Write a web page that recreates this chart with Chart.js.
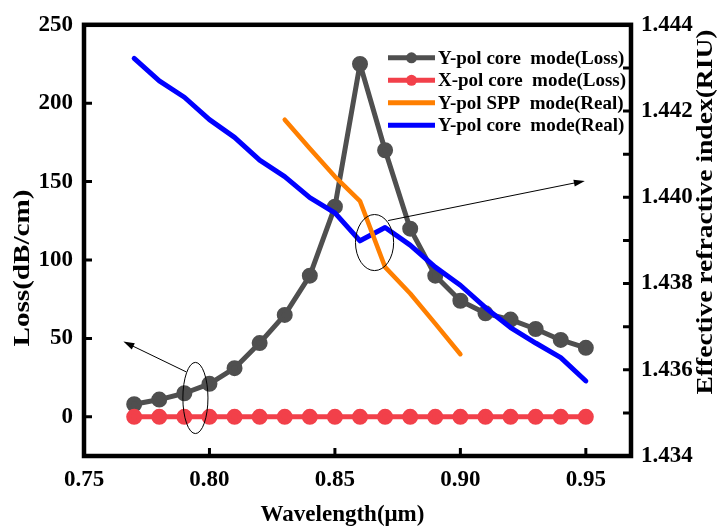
<!DOCTYPE html>
<html>
<head>
<meta charset="utf-8">
<script src="https://cdn.jsdelivr.net/npm/chart.js@4"></script>
<style>
html, body { margin: 0; padding: 0; background: #fff; }
#wrap { width: 717px; height: 529px; }
</style>
</head>
<body>
<div id="wrap"><canvas id="myChart"></canvas></div>
<script>
const wavelengths = [0.77, 0.78, 0.79, 0.80, 0.81, 0.82, 0.83, 0.84, 0.85, 0.86, 0.87, 0.88, 0.89, 0.90, 0.91, 0.92, 0.93, 0.94, 0.95];
const yCoreLoss = [8, 11, 15, 21, 31, 47, 65, 90, 134, 225, 170, 120, 90, 74, 66, 62, 56, 49, 44];
const xCoreLoss = [0, 0, 0, 0, 0, 0, 0, 0, 0, 0, 0, 0, 0, 0, 0, 0, 0, 0, 0];
const sppWavelengths = [0.83, 0.84, 0.85, 0.86, 0.87, 0.88, 0.89, 0.90];
const sppReal = [1.4418, 1.44113, 1.44048, 1.43991, 1.43838, 1.43777, 1.43707, 1.43636];
const yCoreReal = [1.44322, 1.4427, 1.44232, 1.4418, 1.44139, 1.44086, 1.44048, 1.43999, 1.43964, 1.43899, 1.4393, 1.43889, 1.43838, 1.43796, 1.43744, 1.43698, 1.43662, 1.43628, 1.43574];
const xTicks = [0.75, 0.80, 0.85, 0.90, 0.95];
const lossTicks = [0, 50, 100, 150, 200, 250];
const indexTicks = [1.434, 1.435, 1.436, 1.437, 1.438, 1.439, 1.440, 1.441, 1.442, 1.443, 1.444];

const serif = "'Liberation Serif', 'Times New Roman', serif";

function pts(xs, ys) {
    return xs.map((x, i) => ({ x: x, y: ys[i] }));
}

// frame, inward ticks, titles, legend and the two callouts
const decor = {
    id: 'decor',
    afterDatasetsDraw(chart) {
        const ctx = chart.ctx;
        const a = chart.chartArea;
        const sx = chart.scales.x, sy = chart.scales.y, sr = chart.scales.y1;
        ctx.save();

        // callouts
        ctx.strokeStyle = '#000';
        ctx.fillStyle = '#000';
        ctx.lineWidth = 1;
        function ellipse(scaleY, cx, cy, rx, ry) {
            const px = sx.getPixelForValue(cx), py = scaleY.getPixelForValue(cy);
            const prx = Math.abs(sx.getPixelForValue(cx + rx) - px);
            const pry = Math.abs(scaleY.getPixelForValue(cy + ry) - py);
            ctx.beginPath();
            ctx.ellipse(px, py, prx, pry, 0, 0, Math.PI * 2);
            ctx.stroke();
        }
        function arrow(scaleY, x0, y0, x1, y1) {
            const ax = sx.getPixelForValue(x0), ay = scaleY.getPixelForValue(y0);
            const bx = sx.getPixelForValue(x1), by = scaleY.getPixelForValue(y1);
            const ang = Math.atan2(by - ay, bx - ax);
            ctx.beginPath();
            ctx.moveTo(ax, ay);
            ctx.lineTo(bx - 8 * Math.cos(ang), by - 8 * Math.sin(ang));
            ctx.stroke();
            ctx.beginPath();
            ctx.moveTo(bx, by);
            ctx.lineTo(bx - 11 * Math.cos(ang) + 3.5 * Math.sin(ang), by - 11 * Math.sin(ang) - 3.5 * Math.cos(ang));
            ctx.lineTo(bx - 11 * Math.cos(ang) - 3.5 * Math.sin(ang), by - 11 * Math.sin(ang) + 3.5 * Math.cos(ang));
            ctx.closePath();
            ctx.fill();
        }
        ellipse(sy, 0.7944, 12, 0.005, 22.7);
        arrow(sy, 0.7908, 28.6, 0.7657, 48);
        ellipse(sr, 0.8658, 1.43895, 0.0076, 0.00065);
        arrow(sr, 0.8712, 1.43946, 0.9496, 1.44038);

        // frame
        ctx.lineWidth = 4.5;
        ctx.strokeRect(a.left, a.top, a.right - a.left, a.bottom - a.top);

        // inward ticks
        ctx.lineWidth = 3;
        ctx.beginPath();
        sx.ticks.forEach(t => {
            if (t.value <= sx.min || t.value >= sx.max) return;
            const p = sx.getPixelForValue(t.value);
            ctx.moveTo(p, a.bottom);
            ctx.lineTo(p, a.bottom - 8);
        });
        sy.ticks.forEach(t => {
            if (t.value <= sy.min || t.value >= sy.max) return;
            const p = sy.getPixelForValue(t.value);
            ctx.moveTo(a.left, p);
            ctx.lineTo(a.left + 8, p);
        });
        sr.ticks.forEach(t => {
            if (t.value <= sr.min + 1e-9 || t.value >= sr.max - 1e-9) return;
            const p = sr.getPixelForValue(t.value);
            ctx.moveTo(a.right, p);
            ctx.lineTo(a.right - 8, p);
        });
        ctx.stroke();

        // axis titles (the vertical ones are drawn stretched, as in the figure)
        ctx.fillStyle = '#000';
        ctx.textAlign = 'center';
        ctx.textBaseline = 'middle';
        ctx.font = "bold 23px " + serif;
        ctx.fillText('Wavelength(\u03bcm)', (a.left + a.right) / 2 - 15, 515);
        function vTitle(text, cx, cy, len) {
            const w = ctx.measureText(text).width;
            ctx.save();
            ctx.translate(cx, cy);
            ctx.rotate(-Math.PI / 2);
            ctx.scale(len / w, 1);
            ctx.fillText(text, 0, 0);
            ctx.restore();
        }
        vTitle('Loss(dB/cm)', 23, 268, 157);
        vTitle('Effective refractive index(RIU)', 706, 212, 365);

        // legend
        ctx.font = "bold 19px " + serif;
        ctx.textAlign = 'left';
        chart.data.datasets.forEach((ds, i) => {
            const y = a.top + 33 + i * 22.5;
            const x0 = a.right - 243, x1 = a.right - 196;
            ctx.strokeStyle = ds.borderColor;
            ctx.lineWidth = 5;
            ctx.beginPath();
            ctx.moveTo(x0, y);
            ctx.lineTo(x1, y);
            ctx.stroke();
            if (ds.pointRadius > 0) {
                ctx.fillStyle = ds.borderColor;
                ctx.beginPath();
                ctx.arc((x0 + x1) / 2, y, 5.5, 0, Math.PI * 2);
                ctx.fill();
            }
            ctx.fillStyle = '#000';
            ctx.fillText(ds.label, x1 + 3, y + 1);
        });
        ctx.restore();
    }
};

new Chart("myChart", {
    type: "line",
    data: {
        datasets: [{
            label: "Y-pol core  mode(Loss)",
            data: pts(wavelengths, yCoreLoss),
            yAxisID: 'y',
            borderColor: "#4f4f4f",
            backgroundColor: "#4f4f4f",
            borderWidth: 5,
            pointRadius: 5.5,
            pointStyle: 'circle',
            order: 3
        }, {
            label: "X-pol core  mode(Loss)",
            data: pts(wavelengths, xCoreLoss),
            yAxisID: 'y',
            borderColor: "#f2404a",
            backgroundColor: "#f2404a",
            borderWidth: 5,
            pointRadius: 5.5,
            pointStyle: 'circle',
            order: 2
        }, {
            label: "Y-pol SPP  mode(Real)",
            data: pts(sppWavelengths, sppReal),
            yAxisID: 'y1',
            borderColor: "#ff7f00",
            backgroundColor: "#ff7f00",
            borderWidth: 4.5,
            pointRadius: 0,
            order: 0
        }, {
            label: "Y-pol core  mode(Real)",
            data: pts(wavelengths, yCoreReal),
            yAxisID: 'y1',
            borderColor: "#0000ff",
            backgroundColor: "#0000ff",
            borderWidth: 5,
            pointRadius: 0,
            order: 1
        }]
    },
    options: {
        responsive: true,
        maintainAspectRatio: false,
        animation: false,
        layout: { padding: { top: 20, left: 0, right: 0, bottom: 0 } },
        plugins: {
            legend: { display: false },
            tooltip: { enabled: false }
        },
        elements: { line: { tension: 0, borderCapStyle: 'round', borderJoinStyle: 'round' } },
        scales: {
            x: {
                type: 'linear',
                min: 0.75,
                max: 0.968,
                afterBuildTicks: s => { s.ticks = xTicks.map(v => ({ value: v })); },
                afterFit: s => { s.height = 73; },
                grid: { display: false, drawTicks: false },
                border: { display: false },
                ticks: {
                    padding: 10,
                    color: '#000',
                    font: { family: serif, size: 23, weight: 'bold' },
                    callback: v => v.toFixed(2)
                }
            },
            y: {
                position: 'left',
                min: -25,
                max: 250,
                afterBuildTicks: s => { s.ticks = lossTicks.map(v => ({ value: v })); },
                afterFit: s => { s.width = 84; },
                grid: { display: false, drawTicks: false },
                border: { display: false },
                ticks: {
                    padding: 11,
                    color: '#000',
                    font: { family: serif, size: 23, weight: 'bold' }
                }
            },
            y1: {
                position: 'right',
                min: 1.434,
                max: 1.444,
                afterBuildTicks: s => { s.ticks = indexTicks.map(v => ({ value: v })); },
                afterFit: s => { s.width = 86; },
                grid: { display: false, drawTicks: false },
                border: { display: false },
                ticks: {
                    padding: 10,
                    color: '#000',
                    font: { family: serif, size: 23, weight: 'bold' },
                    autoSkip: false,
                    callback: (v, i) => (i % 2 === 0 ? v.toFixed(3) : '')
                }
            }
        }
    },
    plugins: [decor]
});
</script>
</body>
</html>
